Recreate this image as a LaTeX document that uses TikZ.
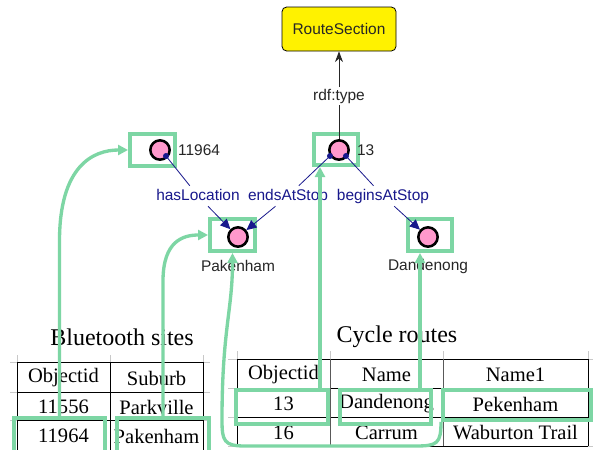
\documentclass[tikz,border=0pt]{standalone}
\usepackage{fontspec}
\setmainfont{Liberation Serif}
\setsansfont{Liberation Sans}
\usetikzlibrary{arrows.meta,fit}
\definecolor{gr}{RGB}{125,214,164}
\definecolor{pinkc}{RGB}{255,153,204}
\definecolor{navyc}{RGB}{24,24,140}
\definecolor{gridc}{RGB}{200,200,200}
\begin{document}
\begin{tikzpicture}[x=0.75pt,y=-0.75pt,
  gbox/.style={draw=gr, line width=3pt, inner sep=0pt},
  garrow/.style={draw=gr, line width=2.5pt, -{Triangle[length=7.5pt,width=7.5pt]}},
  res/.style={circle, draw=black, fill=pinkc, line width=1.9pt, minimum size=14.5pt, inner sep=0pt},
  lbl/.style={font=\sffamily\fontsize{11.6}{13}\selectfont, text=black!85, inner sep=1pt},
  elbl/.style={font=\sffamily\fontsize{11.6}{13}\selectfont, text=navyc, inner sep=2pt, text height=8.5pt, text depth=2.5pt},
  eline/.style={draw=navyc, line width=0.6pt},
  earrow/.style={eline, -{Triangle[length=7.5pt,width=7pt]}},
  dotc/.style={circle, fill=navyc, inner sep=0pt, minimum size=4.5pt},
  cell/.style={font=\fontsize{15.4}{18}\selectfont, inner sep=0pt},
  ttl/.style={font=\fontsize{18}{21}\selectfont, inner sep=0pt},
  tline/.style={draw=black, line width=0.75pt},
  gline/.style={draw=gridc, line width=0.75pt},
]
\useasboundingbox (0,0) rectangle (593,450);
\clip (0,0) rectangle (593,450);
\fill[white] (0,0) rectangle (593,450);

% ---------- Bluetooth sites table ----------
\foreach \x in {17,110,203} \draw[gline] (\x,355) -- (\x,362);
\foreach \y in {362,392,420} {\draw[gline] (10,\y) -- (17,\y); \draw[gline] (203,\y) -- (210,\y);}
\foreach \y in {362,392,420} \draw[tline] (17,\y) -- (203,\y);
\foreach \x in {17,110,203} \draw[tline] (\x,362) -- (\x,452);
\node[ttl] (bt) at (122,337) {Bluetooth sites};
\node[cell] (b11) at (63.5,378) {Objectid};
\node[cell] (b12) at (156.5,378) {Suburb};
\node[cell] (b21) at (63.5,407) {11556};
\node[cell] (b22) at (156.5,407) {Parkville};
\node[cell] (b31) at (63.5,436) {11964};
\node[cell] (b32) at (156.5,436) {Pakenham};

% ---------- Cycle routes table ----------
\foreach \x in {237,330,443,588} \draw[gline] (\x,351) -- (\x,359);
\foreach \y in {359,388,417,446} {\draw[gline] (228,\y) -- (237,\y); \draw[gline] (588,\y) -- (593,\y);}
\foreach \y in {359,388,417,446} \draw[tline] (237,\y) -- (588,\y);
\foreach \x in {237,588} \draw[tline] (\x,359) -- (\x,446);
\foreach \x in {330,443} \draw[tline, draw=black!65] (\x,359) -- (\x,446);
\node[ttl] (ct) at (397,337) {Cycle routes};
\node[cell] (c11) at (283.5,375) {Objectid};
\node[cell] (c12) at (386.5,375) {Name};
\node[cell] (c13) at (515.5,375) {Name1};
\node[cell] (c21) at (283.5,404) {13};
\node[cell] (c22) at (386.5,404) {Dandenong};
\node[cell] (c23) at (515.5,404) {Pekenham};
\node[cell] (c31) at (283.5,433) {16};
\node[cell] (c32) at (386.5,433) {Carrum};
\node[cell] (c33) at (515.5,433) {Waburton Trail};

% ---------- green highlight boxes ----------
\node[gbox, fit={(130,134) (175,166)}] (g11964) {};
\node[gbox, fit={(314,134) (358,165)}] (g13) {};
\node[gbox, fit={(210,219) (255,251)}] (gpak) {};
\node[gbox, fit={(408,219) (452,251)}] (gdand) {};
\node[gbox, fit={(14,418) (105,462)}] (gb1) {};
\node[gbox, fit={(117,418) (209,462)}] (gb2) {};
\node[gbox, fit={(236,390) (328,424)}] (gc13) {};
\node[gbox, fit={(340,390) (431,424)}] (gcd) {};
\node[gbox, fit={(443,390) (591,420)}] (gcp) {};

% ---------- RDF graph ----------
\node[fit={(282,7) (396,51)}, inner sep=0pt, draw=black, fill=yellow, rounded corners=3.5pt, line width=0.6pt] (rs) {};
\node[lbl] (rst) at (rs.center) {RouteSection};
\node[lbl] (rt) at (339,96) {rdf:type};

\node[res] (n11964) at (160,150) {};
\node[res] (n13) at (339,150) {};
\node[res] (pak) at (238,237) {};
\node[res] (dand) at (428,237) {};
\node[lbl, anchor=west] (t11964) at (176.5,150) {11964};
\node[lbl, anchor=west] (t13) at (355.5,150) {13};
\node[lbl] (tpak) at (238,266) {Pakenham};
\node[lbl] (tdand) at (428,266) {Dandenong};

\draw[line width=0.7pt, black!85] (n13) -- (rt);
\draw[line width=0.7pt, black!85, -{Stealth[length=8pt,width=6pt]}] (rt) -- (rs);

\node[elbl] (hl) at (198,196) {hasLocation};
\node[elbl] (ea) at (288,196) {endsAtStop};
\node[elbl] (ba) at (383,196) {beginsAtStop};

\coordinate (p1) at (166,156);
\coordinate (p2) at (330,156);
\coordinate (p3) at (346,156);
\draw[eline] (p1) -- (hl);
\draw[earrow] (hl) -- (pak);
\draw[eline] (p2) -- (ea);
\draw[earrow] (ea) -- (pak);
\draw[eline] (p3) -- (ba);
\draw[earrow] (ba) -- (dand);
\node[dotc] (d1) at (p1) {};
\node[dotc] (d2) at (p2) {};
\node[dotc] (d3) at (p3) {};

% ---------- green connectors ----------
\coordinate (c3) at (320,390);
\coordinate (c4) at (420,390);
\draw[garrow] (gb1.north) -- ++(0,-175) .. controls +(0,-75) and +(-35,0) .. (g11964.west);
\draw[garrow] (gb2.north) -- ++(0,-135) .. controls +(0,-40) and +(-25,0) .. (gpak.west);
\draw[garrow] (c3) -- (c3 |- g13.south);
\draw[garrow] (c4) -- (c4 |- gdand.south);
\draw[garrow] (gcp.south west) .. controls +(0,22) and (437,446) .. (415,446) -- (245,446)
  .. controls (224,446) and (222,441) .. (222,420)
  .. controls (222,330) and (232.5,310) .. (gpak.south);
\end{tikzpicture}
\end{document}
